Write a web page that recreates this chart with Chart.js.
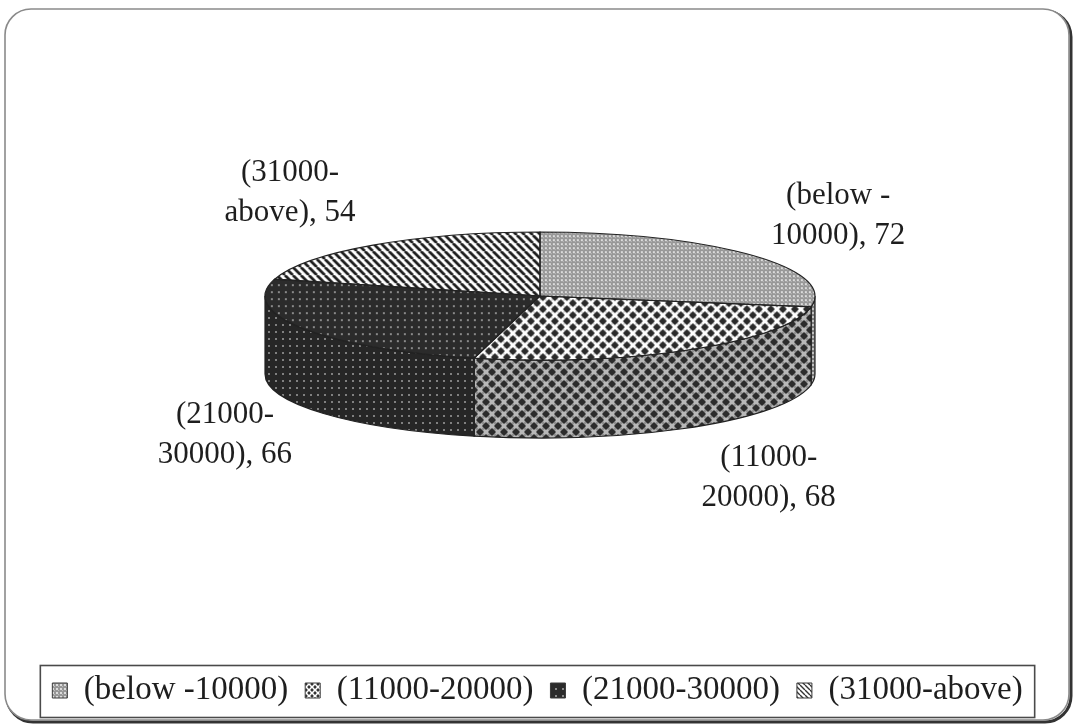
<!DOCTYPE html>
<html>
<head>
<meta charset="utf-8">
<script src="https://cdn.jsdelivr.net/npm/chart.js@4/dist/chart.umd.min.js"></script>
<style>
  html, body { margin: 0; padding: 0; background: #ffffff; }
  #wrap { width: 1078px; height: 726px; position: relative; }
</style>
</head>
<body>
<div id="wrap"><canvas id="c" width="1078" height="726"></canvas></div>
<script>
// Income bands and the number of respondents in each
const categories = ['(below -10000)', '(11000-20000)', '(21000-30000)', '(31000-above)'];
const values = [72, 68, 66, 54];

// Tilted-disc geometry (centre, radii of the top face, wall height)
const PIE = { cx: 540, cy: 296, rx: 275, ry: 64, depth: 78 };
// Nudges that move each data label out from the rim of its slice
const LABEL_NUDGE = [[88, -39], [78, 50], [-78, 28], [-83, -52]];
const SERIF = "'Liberation Serif', 'Times New Roman', serif";
const INK = '#1e1e1e';

const canvas = document.getElementById('c');
const ctx = canvas.getContext('2d');

function tile(size, draw) {
  const c = document.createElement('canvas');
  c.width = c.height = size;
  const g = c.getContext('2d');
  draw(g, size);
  return c;
}
function diamond(g, x, y, r) {
  g.beginPath();
  g.moveTo(x, y - r); g.lineTo(x + r, y); g.lineTo(x, y + r); g.lineTo(x - r, y);
  g.closePath(); g.fill();
}
function dot(g, x, y, r) {
  g.beginPath(); g.arc(x, y, r, 0, Math.PI * 2); g.fill();
}
// Checker of dark diamonds with round pale spots between them
function diamondChecker(bg, spot, ink, r, rs) {
  return tile(12, (g, s) => {
    g.fillStyle = bg; g.fillRect(0, 0, s, s);
    g.fillStyle = spot;
    [[s / 2, 0], [0, s / 2], [s, s / 2], [s / 2, s]].forEach(p => dot(g, p[0], p[1], rs));
    g.fillStyle = ink;
    [[0, 0], [s, 0], [0, s], [s, s], [s / 2, s / 2]].forEach(p => diamond(g, p[0], p[1], r));
  });
}

// Fill tiles for each band
const tiles = {
  fineGrey: tile(4, (g, s) => {
    g.fillStyle = '#979797'; g.fillRect(0, 0, s, s);
    g.fillStyle = '#dcdcdc'; g.fillRect(0, 0, 2, 2);
    g.fillStyle = '#bdbdbd'; g.fillRect(2, 2, 1, 1);
  }),
  fineGreyDark: tile(4, (g, s) => {
    g.fillStyle = '#7a7a7a'; g.fillRect(0, 0, s, s);
    g.fillStyle = '#c0c0c0'; g.fillRect(0, 0, 2, 2);
  }),
  diamondWhite: diamondChecker('#d4d4d4', '#ffffff', '#2a2a2a', 4.0, 3.4),
  diamondGrey: diamondChecker('#8e8e8e', '#b8b8b8', '#2c2c2c', 4.0, 3.0),
  darkDots: tile(7, (g, s) => {
    g.fillStyle = '#2b2b2b'; g.fillRect(0, 0, s, s);
    g.fillStyle = '#8a8a8a'; g.fillRect(2, 2, 2, 2);
  }),
  darkDotsSide: tile(7, (g, s) => {
    g.fillStyle = '#262626'; g.fillRect(0, 0, s, s);
    g.fillStyle = '#808080'; g.fillRect(2, 2, 2, 2);
  }),
  hatch: tile(8, (g, s) => {
    g.fillStyle = '#ffffff'; g.fillRect(0, 0, s, s);
    g.strokeStyle = '#1e1e1e'; g.lineWidth = 2.8;
    g.beginPath();
    for (let k = -1; k <= 1; k++) { g.moveTo(k * s, 0); g.lineTo(k * s + s, s); }
    g.stroke();
  }),
  hatchSmall: tile(5, (g, s) => {
    g.fillStyle = '#ffffff'; g.fillRect(0, 0, s, s);
    g.strokeStyle = '#333'; g.lineWidth = 1.4;
    g.beginPath();
    for (let k = -1; k <= 1; k++) { g.moveTo(k * s, 0); g.lineTo(k * s + s, s); }
    g.stroke();
  }),
  smallChecker: tile(6, (g, s) => {
    g.fillStyle = '#ffffff'; g.fillRect(0, 0, s, s);
    g.fillStyle = '#333';
    [[0, 0], [s, 0], [0, s], [s, s], [s / 2, s / 2]].forEach(p => diamond(g, p[0], p[1], 1.9));
  })
};
const pat = t => ctx.createPattern(t, 'repeat');

const topTiles = [tiles.fineGrey, tiles.diamondWhite, tiles.darkDots, tiles.hatch];
const sideTiles = [tiles.fineGreyDark, tiles.diamondGrey, tiles.darkDotsSide, tiles.hatch];
const legendTiles = [tiles.fineGrey, tiles.smallChecker, tiles.darkDots, tiles.hatchSmall];

const topFills = topTiles.map(pat);
const sideFills = sideTiles.map(pat);
const legendFills = legendTiles.map(pat);

// Two-line data label: band name broken after its first hyphen, then the count
function labelLines(i) {
  const t = categories[i];
  const cut = t.indexOf('-') + 1;
  return [t.slice(0, cut), t.slice(cut) + ', ' + values[i]];
}

function roundRectPath(c, x, y, w, h, r) {
  c.beginPath();
  c.moveTo(x + r, y);
  c.lineTo(x + w - r, y); c.arcTo(x + w, y, x + w, y + r, r);
  c.lineTo(x + w, y + h - r); c.arcTo(x + w, y + h, x + w - r, y + h, r);
  c.lineTo(x + r, y + h); c.arcTo(x, y + h, x, y + h - r, r);
  c.lineTo(x, y + r); c.arcTo(x, y, x + r, y, r);
  c.closePath();
}

const framePlugin = {
  id: 'frame',
  beforeDraw(chart) {
    const c = chart.ctx;
    c.save();
    c.fillStyle = '#ffffff';
    c.fillRect(0, 0, chart.width, chart.height);
    roundRectPath(c, 7, 11, 1064, 711, 26);
    c.strokeStyle = '#333'; c.lineWidth = 3; c.stroke();
    roundRectPath(c, 5, 9, 1064, 711, 26);
    c.fillStyle = '#ffffff'; c.fill();
    c.strokeStyle = '#8a8a8a'; c.lineWidth = 1.6; c.stroke();
    c.restore();
  },
  afterDraw(chart) {
    const boxes = chart.legend.legendHitBoxes;
    if (!boxes || !boxes.length) return;
    const left = Math.min(...boxes.map(b => b.left)) - 12;
    const right = Math.max(...boxes.map(b => b.left + b.width)) + 12;
    const mid = boxes[0].top + boxes[0].height / 2;
    const c = chart.ctx;
    c.save();
    c.strokeStyle = '#4a4a4a'; c.lineWidth = 1.6;
    c.strokeRect(left, mid - 25, right - left, 52);
    c.restore();
  }
};

function ePoint(a, dy) {
  return [PIE.cx + PIE.rx * Math.cos(a), PIE.cy + PIE.ry * Math.sin(a) + (dy || 0)];
}

const pie3dPlugin = {
  id: 'pie3d',
  beforeDatasetsDraw(chart) {
    const c = chart.ctx;
    const arcs = chart.getDatasetMeta(0).data;
    const R = arcs[0].outerRadius, ax = arcs[0].x, ay = arcs[0].y;
    const sx = PIE.rx / R, sy = PIE.ry / R;

    // Walls of the slices on the near half of the disc
    c.save();
    arcs.forEach((arc, i) => {
      const a = Math.max(arc.startAngle, 0), b = Math.min(arc.endAngle, Math.PI);
      if (b <= a) return;
      const pb = ePoint(b, PIE.depth);
      c.beginPath();
      c.ellipse(PIE.cx, PIE.cy, PIE.rx, PIE.ry, 0, a, b, false);
      c.lineTo(pb[0], pb[1]);
      c.ellipse(PIE.cx, PIE.cy + PIE.depth, PIE.rx, PIE.ry, 0, b, a, true);
      c.closePath();
      c.fillStyle = sideFills[i]; c.fill();
      c.strokeStyle = '#222'; c.lineWidth = 1.2; c.stroke();
    });
    c.restore();

    // Top face: the library's own arcs, squashed into the tilted ellipse
    topFills.forEach(p => p.setTransform(new DOMMatrix().scale(1 / sx, 1 / sy)));
    c.save();
    c.translate(PIE.cx, PIE.cy);
    c.scale(sx, sy);
    c.translate(-ax, -ay);
  },
  afterDatasetsDraw(chart) {
    const c = chart.ctx;
    c.restore();
    const arcs = chart.getDatasetMeta(0).data;

    c.save();
    c.strokeStyle = '#222'; c.lineWidth = 1.2;
    arcs.forEach(arc => {
      const p = ePoint(arc.startAngle);
      c.beginPath();
      c.moveTo(PIE.cx, PIE.cy);
      c.lineTo(p[0], p[1]);
      c.ellipse(PIE.cx, PIE.cy, PIE.rx, PIE.ry, 0, arc.startAngle, arc.endAngle, false);
      c.closePath();
      c.stroke();
    });

    // Data labels
    c.font = '31px ' + SERIF;
    c.fillStyle = INK;
    c.textAlign = 'center';
    c.textBaseline = 'middle';
    arcs.forEach((arc, i) => {
      const mid = (arc.startAngle + arc.endAngle) / 2;
      const s = Math.sin(mid);
      const p = ePoint(mid, s > 0 ? PIE.depth : 0);
      const x = p[0] + LABEL_NUDGE[i][0], y = p[1] + LABEL_NUDGE[i][1];
      const lines = labelLines(i);
      c.fillText(lines[0], x, y - 20);
      c.fillText(lines[1], x, y + 20);
    });
    c.restore();
  }
};

new Chart(ctx, {
  type: 'pie',
  data: {
    labels: categories,
    datasets: [{ data: values, backgroundColor: topFills, borderWidth: 0 }]
  },
  options: {
    responsive: false,
    animation: false,
    devicePixelRatio: 1,
    events: [],
    layout: { padding: { left: 0, right: 3, top: 60, bottom: 9 } },
    plugins: {
      tooltip: { enabled: false },
      legend: {
        position: 'bottom',
        labels: {
          font: { family: SERIF, size: 33 },
          color: INK,
          boxWidth: 15,
          boxHeight: 15,
          padding: 17,
          generateLabels(chart) {
            return chart.data.labels.map((t, i) => ({
              text: t, fillStyle: legendFills[i], strokeStyle: '#3a3a3a',
              lineWidth: 1, hidden: false, index: i, fontColor: INK
            }));
          }
        }
      }
    }
  },
  plugins: [framePlugin, pie3dPlugin]
});
</script>
</body>
</html>
